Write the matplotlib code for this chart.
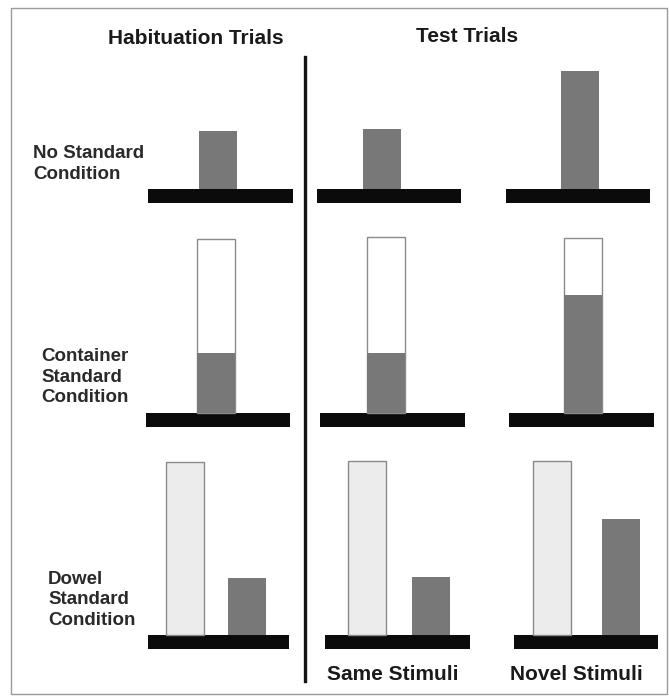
import numpy as np
import matplotlib.pyplot as plt
from matplotlib.patches import Rectangle

plt.rcParams["font.family"] = ["Liberation Sans", "DejaVu Sans"]

# ------------------------------------------------------------
# Schematic data (height in arbitrary "looking time" units)
# ------------------------------------------------------------
conditions = ["No Standard\nCondition", "Container\nStandard\nCondition",
              "Dowel\nStandard\nCondition"]
columns = ["Habituation Trials", "Same Stimuli", "Novel Stimuli"]

# looking time (dark bar) per row, per column
no_standard_look = [1.0, 1.03, 2.03]
container_look = [1.03, 1.03, 2.03]
dowel_look = [0.98, 1.0, 2.0]

# height of the standard (container outline / dowel bar)
container_height = [3.0, 3.03, 3.02]
dowel_height = [2.98, 3.0, 3.0]

# ------------------------------------------------------------
# Layout (pixels, y measured from the bottom of the image)
# ------------------------------------------------------------
W, H = 669, 696
px_per_unit = 58.0
dark = "#787878"
light = "#ececec"
edge = "#8a8a8a"

row_base = [H - 189, H - 413, H - 635]           # top of the platforms
platform_x = [
    [(148, 293), (317, 461), (506, 650)],
    [(146, 290), (320, 465), (509, 654)],
    [(148, 289), (325, 470), (514, 658)],
]
platform_h = 14
bar_w = 38
single_bar_x = [[218, 382, 580], [216, 386, 583]]  # rows 1 and 2
dowel_std_x = [185, 367, 552]
dowel_look_x = [247, 431, 621]
label_pos = [(33, H - 164), (41, H - 377), (48, H - 600)]

fig = plt.figure(figsize=(W / 100, H / 100), dpi=100)
ax = fig.add_axes([0, 0, 1, 1])
ax.set_xlim(0, W)
ax.set_ylim(0, H)
ax.axis("off")

# frame
ax.add_patch(Rectangle((11, 2), W - 13, H - 10, fill=False,
                       edgecolor="#9a9a9a", linewidth=1.0))

# platforms
for r in range(3):
    for (x0, x1) in platform_x[r]:
        ax.bar((x0 + x1) / 2, platform_h, width=x1 - x0,
               bottom=row_base[r] - platform_h, color="#0b0b0b")

# row 1: no standard
ax.bar(single_bar_x[0], np.array(no_standard_look) * px_per_unit,
       width=bar_w, bottom=row_base[0], color=dark)

# row 2: container standard (outline + filled looking time)
ax.bar(single_bar_x[1], np.array(container_height) * px_per_unit,
       width=bar_w, bottom=row_base[1], color="white",
       edgecolor=edge, linewidth=1.0)
ax.bar(single_bar_x[1], np.array(container_look) * px_per_unit,
       width=bar_w, bottom=row_base[1], color=dark)

# row 3: dowel standard (light bar) + looking time
ax.bar(dowel_std_x, np.array(dowel_height) * px_per_unit,
       width=bar_w, bottom=row_base[2], color=light,
       edgecolor=edge, linewidth=1.0)
ax.bar(dowel_look_x, np.array(dowel_look) * px_per_unit,
       width=bar_w, bottom=row_base[2], color=dark)

# divider
ax.plot([305, 305], [H - 57, H - 681], color="#151515", linewidth=2.4)

# titles
title_kw = dict(ha="center", va="center", fontsize=15,
                fontweight="bold", color="#1a1a1a")
ax.text(196, H - 39, columns[0], **title_kw)
ax.text(467, H - 37, "Test Trials", **title_kw)
ax.text(393, H - 674, columns[1], **title_kw)
ax.text(576, H - 674, columns[2], **title_kw)

for (lx, ly), lab in zip(label_pos, conditions):
    ax.text(lx, ly, lab, ha="left", va="center", fontsize=13.5,
            fontweight="bold", color="#2a2a2a", linespacing=1.25)

fig.savefig("out.png", dpi=100)
